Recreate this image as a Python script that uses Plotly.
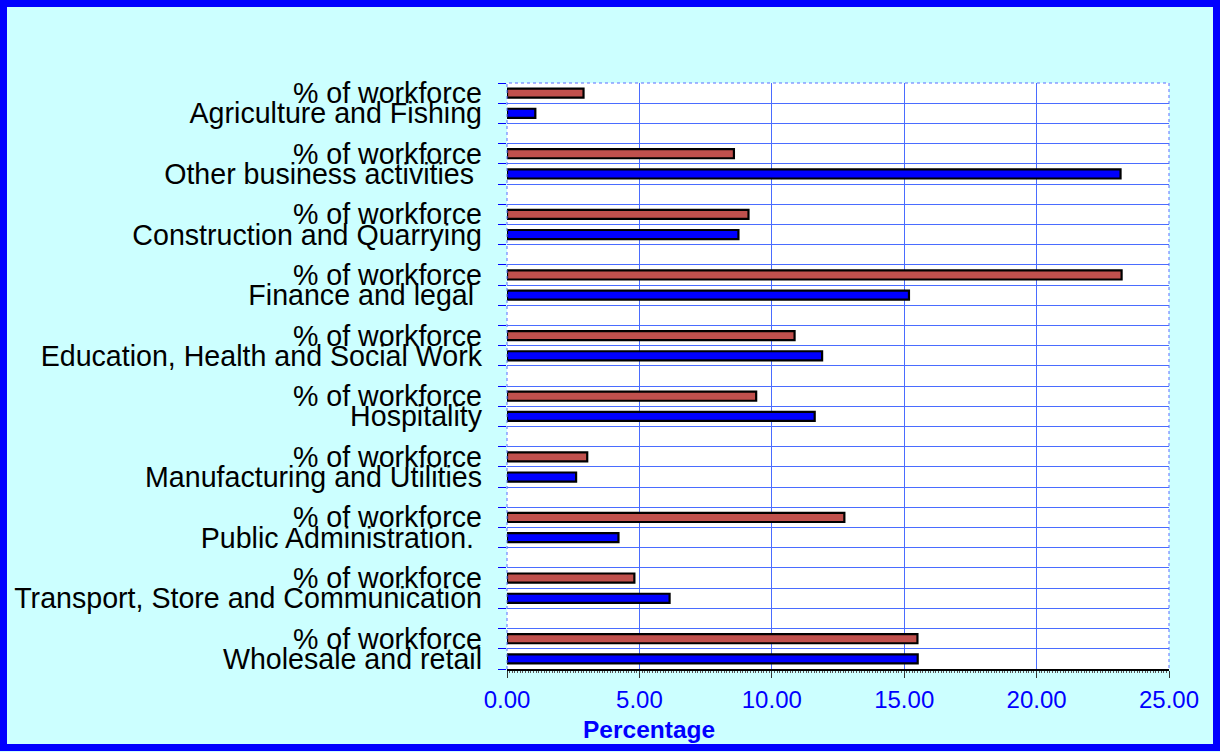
import plotly.graph_objects as go

# ---- data (top to bottom) ----
sectors = [
    "Agriculture and Fishing",
    "Other business activities\u00a0",
    "Construction and Quarrying",
    "Finance and legal\u00a0",
    "Education, Health and Social Work",
    "Hospitality",
    "Manufacturing and Utilities",
    "Public Administration.\u00a0",
    "Transport, Store and Communication",
    "Wholesale and retail",
]
workforce_label = "% of workforce"
pct_workforce = [2.89, 8.57, 9.12, 23.21, 10.86, 9.41, 3.03, 12.74, 4.81, 15.50]
pct_sector = [1.07, 23.17, 8.74, 15.18, 11.90, 11.62, 2.61, 4.21, 6.14, 15.51]
x_ticks = [0, 5, 10, 15, 20, 25]
x_title = "Percentage"

# ---- layout constants ----
W, H = 1220, 752
L, R, T, B = 507, 51, 83, 83
PW, PH = W - L - R, H - T - B

def px_x(px):
    return (px - L) / PW

def px_y(py):
    return (H - B - py) / PH

FONT = "Liberation Sans, Arial, sans-serif"
RED = "#C0504D"
BLUE = "#0000FF"
GRID = "#4a6cff"

n = len(sectors)
red_pos = [3 * i for i in range(n)]
blue_pos = [3 * i + 1 for i in range(n)]

tickvals = []
ticktext = []
for i in range(n):
    tickvals += [red_pos[i], blue_pos[i]]
    ticktext += [workforce_label, sectors[i]]

fig = go.Figure()
fig.add_trace(go.Bar(
    x=pct_workforce, y=red_pos, orientation="h", width=0.45,
    marker=dict(color=RED, line=dict(color="black", width=2.2)),
    name=workforce_label, showlegend=False,
))
fig.add_trace(go.Bar(
    x=pct_sector, y=blue_pos, orientation="h", width=0.45,
    marker=dict(color=BLUE, line=dict(color="black", width=2.2)),
    name="Sector", showlegend=False,
))

fig.update_layout(
    width=W, height=H,
    margin=dict(l=L, r=R, t=T, b=B, pad=0),
    paper_bgcolor="#CCFFFF",
    plot_bgcolor="white",
    font=dict(family=FONT, color="black"),
    xaxis=dict(
        range=[0, 25], tickvals=x_ticks, tickformat=".2f",
        tickfont=dict(family=FONT, size=24, color=BLUE),
        showgrid=True, gridcolor=GRID, gridwidth=1,
        showline=True, linecolor="black", linewidth=2,
        ticks="outside", ticklen=7, tickcolor="#333333", tickwidth=1,
        ticklabelstandoff=1,
        zeroline=False, fixedrange=True,
        minor=dict(dtick=0.1, tick0=0, ticks="outside", ticklen=2,
                   tickcolor="#555555", tickwidth=1, showgrid=False),
    ),
    yaxis=dict(
        range=[28.5, -0.5], tickmode="array", tickvals=tickvals, ticktext=ticktext,
        tickfont=dict(family=FONT, size=28.6, color="black"),
        ticks="", showgrid=False, zeroline=False, showline=False,
        ticklabelstandoff=24, fixedrange=True,
        minor=dict(tick0=-0.5, dtick=1, ticks="outside", ticklen=8,
                   tickcolor=BLUE, tickwidth=1, showgrid=True,
                   gridcolor=GRID, gridwidth=1),
    ),
    annotations=[dict(
        text="<b>" + x_title + "</b>", x=px_x(649), y=px_y(730),
        xref="paper", yref="paper", xanchor="center", yanchor="middle",
        showarrow=False, font=dict(family=FONT, size=24.5, color=BLUE),
    )],
    shapes=[
        dict(type="path", xref="paper", yref="paper",
             path="M 0 0 L 0 1 L 1 1 L 1 0",
             line=dict(color="#5a6cff", width=1, dash="dot"), layer="above"),
        dict(type="rect", xref="paper", yref="paper",
             x0=px_x(3.5), x1=px_x(W - 3.5), y0=px_y(H - 4.5), y1=px_y(3.5),
             line=dict(color=BLUE, width=7), fillcolor="rgba(0,0,0,0)",
             layer="above"),
    ],
)

fig.write_html("out.html", config={"displayModeBar": False})
